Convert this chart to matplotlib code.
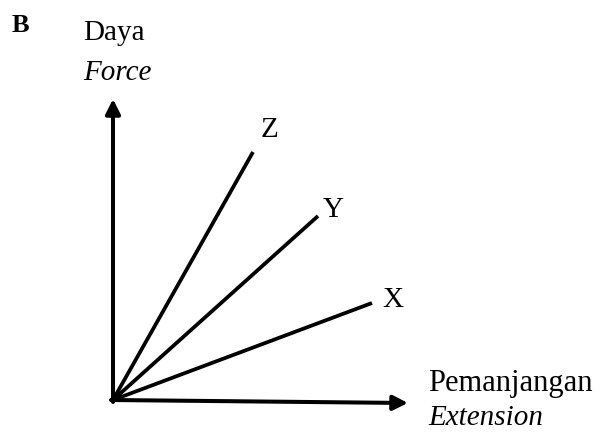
import numpy as np
import matplotlib
matplotlib.use("Agg")
import matplotlib.pyplot as plt

plt.rcParams['font.family'] = ['Liberation Serif', 'DejaVu Serif']

# line labels and end points (extension, force) measured from the origin
line_names = ['Z', 'Y', 'X']
end_extension = [140, 205, 259]
end_force = [248, 184, 97]

# axis arrow tips
x_axis_tip = (295, -3)
y_axis_tip = (0, 301)

fig = plt.figure(figsize=(6.0, 4.37), dpi=100)
ax = fig.add_axes([0, 0, 1, 1])
ax.set_xlim(-113, 487)
ax.set_ylim(-37, 400)
ax.axis('off')

# axes with arrow heads
arrow = dict(arrowstyle='-|>', lw=2.9, color='black', mutation_scale=22,
             shrinkA=0, shrinkB=0)
ax.annotate('', xy=x_axis_tip, xytext=(-2, 0), arrowprops=arrow)
ax.annotate('', xy=y_axis_tip, xytext=(0, -2), arrowprops=arrow)

# the three lines from origin
for name, ex, fo in zip(line_names, end_extension, end_force):
    ax.plot([0, ex], [0, fo], color='black', lw=2.7, solid_capstyle='butt')

# labels of the lines
ax.text(157, 270, 'Z', fontsize=21, ha='center', va='center')
ax.text(220, 190, 'Y', fontsize=21, ha='center', va='center')
ax.text(280, 100, 'X', fontsize=21, ha='center', va='center')

# axis titles
ax.text(-101, 375, 'B', fontsize=19, fontweight='bold', ha='left', va='center')
ax.text(-30, 367, 'Daya', fontsize=21, ha='left', va='center')
ax.text(-30, 327, 'Force', fontsize=21, style='italic', ha='left', va='center')
ax.text(315, 17, 'Pemanjangan', fontsize=22, ha='left', va='center')
ax.text(315, -18, 'Extension', fontsize=21, style='italic', ha='left', va='center')

fig.savefig('out.png', dpi=100)
